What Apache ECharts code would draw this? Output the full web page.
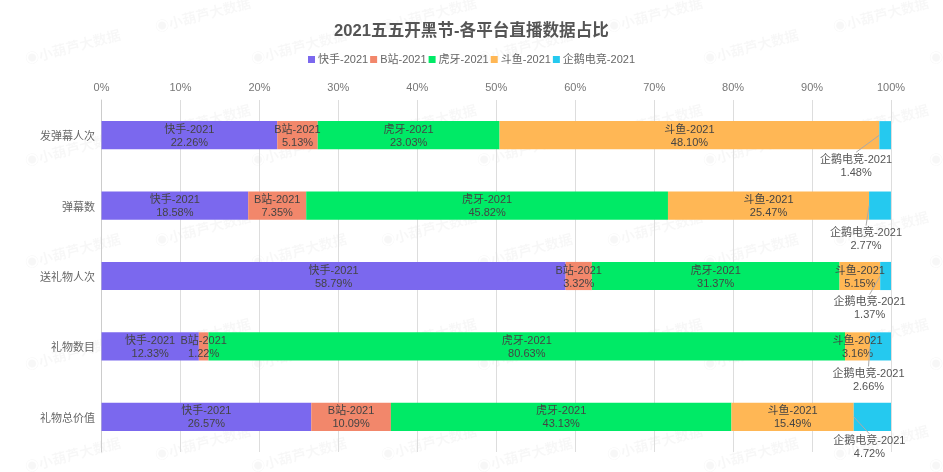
<!DOCTYPE html>
<html>
<head>
<meta charset="utf-8">
<style>html,body{margin:0;padding:0;background:#fff}#chart{width:943px;height:472px}</style>
<script src="https://cdn.jsdelivr.net/npm/echarts@6/dist/echarts.min.js"></script>
</head>
<body>
<div id="chart"></div>
<script>
var categories = ['发弹幕人次', '弹幕数', '送礼物人次', '礼物数目', '礼物总价值'];
var seriesNames = ['快手-2021', 'B站-2021', '虎牙-2021', '斗鱼-2021', '企鹅电竞-2021'];
var kuaishou = [22.26, 18.58, 58.79, 12.33, 26.57];
var bilibili = [5.13, 7.35, 3.32, 1.22, 10.09];
var huya = [23.03, 45.82, 31.37, 80.63, 43.13];
var douyu = [48.10, 25.47, 5.15, 3.16, 15.49];
var penguin = [1.48, 2.77, 1.37, 2.66, 4.72];
var colors = ['#7b68ee', '#f2876b', '#00ea66', '#ffb755', '#25c9ef'];
// 企鹅电竞的标签挪到柱子下方
var penguinLabelDx = [-29, -14, -16, -12, -3];
var penguinLabelDy = [31, 34, 32.5, 34, 31];

var font = '"Liberation Sans", "Noto Sans CJK SC", sans-serif';
var myChart = echarts.init(document.getElementById('chart'));

function makeSeries(name, values, color) {
  return {
    name: name,
    type: 'bar',
    stack: 'total',
    barWidth: '40%',
    data: values,
    itemStyle: { color: color },
    label: {
      show: true,
      position: 'inside',
      offset: [0, 1],
      color: '#444',
      fontSize: 11,
      fontFamily: font,
      lineHeight: 13,
      formatter: function (p) {
        return p.seriesName + '\n' + p.value.toFixed(2) + '%';
      }
    }
  };
}

// 水印
var watermarks = [];
for (var col = 0; col < 5; col++) {
  for (var row = 0; row < 5; row++) {
    watermarks.push({ x: 24 + col * 226, y: 54 + row * 102 });
    watermarks.push({ x: 154 + col * 226, y: 22 + row * 107 });
  }
}
var graphicItems = watermarks.map(function (w) {
  return {
    type: 'text',
    x: w.x,
    y: w.y,
    rotation: 0.26,
    z: -1,
    silent: true,
    style: { text: '◉小葫芦大数据', fontSize: 14, fontWeight: 'bold', fontFamily: font, fill: 'rgba(0,0,0,0.03)' }
  };
});

var series = [
  makeSeries(seriesNames[0], kuaishou, colors[0]),
  makeSeries(seriesNames[1], bilibili, colors[1]),
  makeSeries(seriesNames[2], huya, colors[2]),
  makeSeries(seriesNames[3], douyu, colors[3]),
  makeSeries(seriesNames[4], penguin, colors[4])
];
series[4].label.color = '#555';
series[4].labelLayout = function (p) {
  return { dx: penguinLabelDx[p.dataIndex], dy: penguinLabelDy[p.dataIndex] };
};

// 引导线：从柱子左边中点连到标签上沿
series.push({
  type: 'custom',
  silent: true,
  z: 5,
  clip: false,
  data: penguin.map(function (v, i) { return [100 - v, i]; }),
  encode: { x: 0, y: 1 },
  renderItem: function (params, api) {
    var i = api.value(1);
    var start = api.coord([api.value(0), i]);
    var center = api.coord([100 - penguin[i] / 2, i]);
    return {
      type: 'line',
      shape: {
        x1: start[0],
        y1: start[1],
        x2: center[0] + penguinLabelDx[i],
        y2: center[1] + penguinLabelDy[i] - 14
      },
      style: { stroke: '#aaa', lineWidth: 1 }
    };
  }
});

var option = {
  backgroundColor: '#fff',
  color: colors,
  animation: false,
  graphic: graphicItems,
  title: {
    text: '2021五五开黑节-各平台直播数据占比',
    left: 'center',
    top: 18,
    textStyle: { fontSize: 16.6, fontWeight: 'bold', color: '#555', fontFamily: font }
  },
  legend: {
    top: 49,
    left: 'center',
    itemWidth: 7,
    itemHeight: 7,
    itemGap: 2,
    icon: 'rect',
    data: seriesNames,
    textStyle: { fontSize: 11, color: '#666', fontFamily: font, padding: [0, 0, 0, -2] }
  },
  grid: { left: 101.5, right: 52, top: 100, bottom: 20 },
  xAxis: {
    type: 'value',
    position: 'top',
    min: 0,
    max: 100,
    interval: 10,
    axisLine: { show: false },
    axisTick: { show: false },
    axisLabel: { color: '#777', fontSize: 11, fontFamily: font, margin: 7, formatter: '{value}%' },
    splitLine: { lineStyle: { color: '#ddd' } }
  },
  yAxis: {
    type: 'category',
    inverse: true,
    data: categories,
    axisLine: { lineStyle: { color: '#ccc' } },
    axisTick: { show: false },
    axisLabel: {
      color: '#666',
      fontSize: 11,
      fontFamily: font,
      margin: 6.5,
      formatter: '{a|{value}}',
      rich: { a: { color: '#666', fontSize: 11, fontFamily: font, padding: [4, 0, 0, 0] } }
    }
  },
  series: series
};
myChart.setOption(option);
</script>
</body>
</html>
